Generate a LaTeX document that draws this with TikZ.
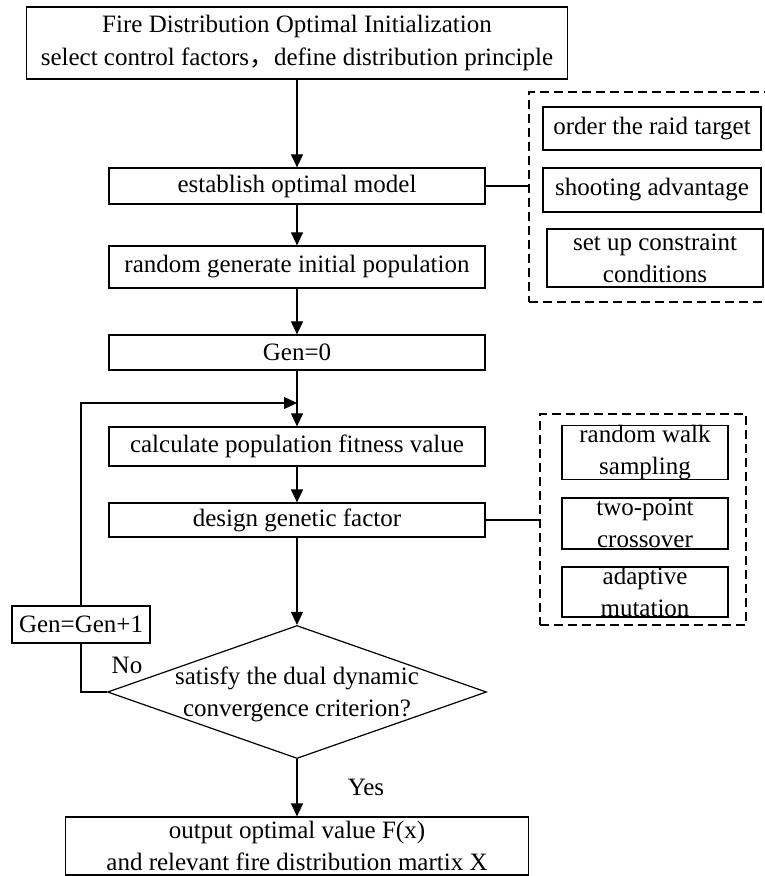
\documentclass[tikz,border=0pt]{standalone}
\usepackage{fontspec}
\setmainfont{Liberation Serif}
\newfontfamily\cjkfont{Noto Sans CJK SC}
\usetikzlibrary{arrows.meta,shapes.geometric}

\begin{document}
\begin{tikzpicture}[x=0.5pt,y=-0.5pt,
    font=\fontsize{12.5}{16}\selectfont,
    box/.style={draw,semithick,align=center,inner sep=0pt},
    groupbox/.style={draw,semithick,dash pattern=on 4.5pt off 2.5pt,inner sep=0pt},
    decision/.style={draw,semithick,diamond,inner sep=0pt},
    line/.style={semithick},
    arrow/.style={semithick,-{Triangle[length=6.5pt,width=6pt]}}]
    \useasboundingbox (0,0) rectangle (764,876);

    % main flow
    \node[box,minimum width=270.5pt,minimum height=36pt] (init) at (297,43)
        {Fire Distribution Optimal Initialization\\[0.5pt]select control factors{\cjkfont ，}define distribution principle};
    \node[box,minimum width=188pt,minimum height=18pt] (model) at (297,186) {establish optimal model};
    \node[box,minimum width=188pt,minimum height=21pt] (randgen) at (297,267) {random generate initial population};
    \node[box,minimum width=188pt,minimum height=17.5pt] (gen0) at (297,352.5) {Gen=0};
    \node[box,minimum width=188pt,minimum height=19.5pt] (fitness) at (297,446.5) {calculate population fitness value};
    \node[box,minimum width=188pt,minimum height=17pt] (design) at (297,520) {design genetic factor};
    \node[decision,minimum width=189.5pt,minimum height=66.5pt] (check) at (297,692) {};
    \node[align=center,inner sep=0pt] (checktext) at (297,694) {satisfy the dual dynamic\\convergence criterion?};
    \node[box,minimum width=69pt,minimum height=18.5pt] (genplus) at (81,624.5) {Gen=Gen+1};
    \node[box,minimum width=231.5pt,minimum height=29pt] (output) at (297,846)
        {output optimal value F(x)\\and relevant fire distribution martix X};
    \coordinate (merge) at (gen0.south |- 0,403);

    % side groups
    \node[groupbox,minimum width=120.5pt,minimum height=105pt] (group1) at (649.5,197) {};
    \node[box,minimum width=109pt,minimum height=21.5pt] (order) at (652,128.5) {order the raid target};
    \node[box,minimum width=109pt,minimum height=22pt] (shoot) at (652,190) {shooting advantage};
    \node[box,minimum width=108pt,minimum height=29pt] (constr) at (655,258) {set up constraint\\conditions};

    \node[groupbox,minimum width=103pt,minimum height=105.5pt] (group2) at (643,519.5) {};
    \node[box,minimum width=83pt,minimum height=26.5pt] (walk) at (645,452.5) {random walk\\sampling};
    \node[box,minimum width=83pt,minimum height=25.5pt] (cross) at (645,523.5) {two-point\\crossover};
    \node[box,minimum width=83pt,minimum height=25pt] (mutate) at (645,592) {adaptive\\mutation};

    % connectors
    \draw[arrow] (init) -- (model);
    \draw[arrow] (model) -- (randgen);
    \draw[arrow] (randgen) -- (gen0);
    \draw[arrow] (gen0) -- (fitness);
    \draw[arrow] (fitness) -- (design);
    \draw[arrow] (design) -- (check);
    \draw[arrow] (check) -- (output);
    \draw[line] (check.west) -| (genplus.south);
    \draw[arrow] (genplus.north) |- (merge);
    \draw[line] (model.east) -- (model.east -| group1.west);
    \draw[line] (design.east) -- (design.east -| group2.west);
    \node (no) at (127,665) {No};
    \node (yes) at (366,787) {Yes};
\end{tikzpicture}
\end{document}
